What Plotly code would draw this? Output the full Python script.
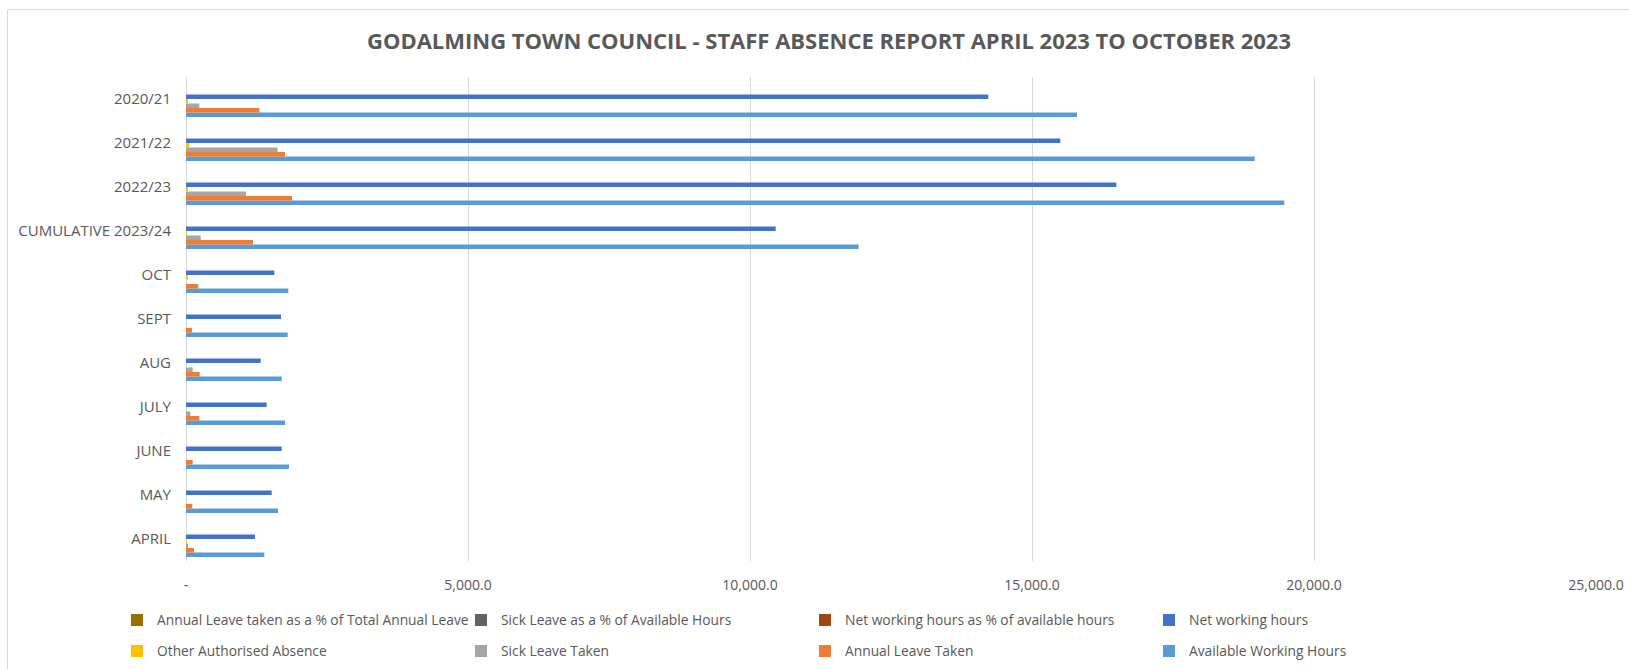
import plotly.graph_objects as go

# Categories (bottom to top as drawn)
categories = ["APRIL", "MAY", "JUNE", "JULY", "AUG", "SEPT", "OCT",
              "CUMULATIVE 2023/24", "2022/23", "2021/22", "2020/21"]

available_hours = [1389, 1631, 1826, 1755, 1697, 1803, 1814, 11927, 19473, 18949, 15798]
annual_leave_taken = [142, 112, 118, 236, 243, 106, 218, 1188, 1880, 1755, 1300]
sick_leave_taken = [20, 0, 0, 77, 118, 0, 0, 260, 1064, 1625, 236]
other_absence = [4, 0, 0, 0, 0, 0, 30, 5, 35, 60, 30]
net_working_hours = [1223, 1519, 1697, 1430, 1324, 1684, 1566, 10455, 16495, 15502, 14225]
# percentage series: no visible length in the picture
net_pct = [0, 0, 0, 0, 0, 0, 0, 0, 0, 0, 0]
sick_pct = [0, 0, 0, 0, 0, 0, 0, 0, 0, 0, 0]
annual_pct = [0, 0, 0, 0, 0, 0, 0, 0, 0, 0, 0]

tick_vals = [0, 5000, 10000, 15000, 20000, 25000]
tick_text = ["-", "5,000.0", "10,000.0", "15,000.0", "20,000.0", "25,000.0"]

series = [
    ("Available Working Hours", available_hours, "#5B9BD5", "legend2"),
    ("Annual Leave Taken", annual_leave_taken, "#ED7D31", "legend2"),
    ("Sick Leave Taken", sick_leave_taken, "#A5A5A5", "legend2"),
    ("Other Authorised Absence", other_absence, "#FFC000", "legend2"),
    ("Net working hours", net_working_hours, "#4472C4", "legend"),
    ("Net working hours as % of available hours", net_pct, "#9E480E", "legend"),
    ("Sick Leave as a % of Available Hours", sick_pct, "#636363", "legend"),
    ("Annual Leave taken as a % of Total Annual Leave", annual_pct, "#997300", "legend"),
]

FONT = "Open Sans"
GREY = "#595959"

fig = go.Figure()
for name, vals, color, leg in series:
    fig.add_trace(go.Bar(
        y=categories, x=vals, name=name, orientation="h",
        marker=dict(color=color, line=dict(width=0)),
        legend=leg,
    ))

W, H = 1629, 669
L, R, T, B = 186, 33, 77, 108
pw, ph = W - L - R, H - T - B

def px_x(x):
    return (x - L) / pw

def px_y(y):
    return (H - B - y) / ph

legend_common = dict(
    orientation="h", traceorder="reversed",
    entrywidth=299, entrywidthmode="pixels",
    font=dict(family=FONT, size=13.8, color=GREY),
    bgcolor="rgba(0,0,0,0)", xanchor="left", yanchor="middle",
    itemwidth=30,
)

fig.update_layout(
    width=W, height=H,
    margin=dict(l=L, r=R, t=T, b=B, autoexpand=False),
    paper_bgcolor="white", plot_bgcolor="white",
    barmode="group", bargap=0.18, bargroupgap=0,
    title=dict(
        text="<b>GODALMING TOWN COUNCIL - STAFF ABSENCE REPORT APRIL 2023 TO OCTOBER 2023</b>",
        x=829 / W, xref="container", xanchor="center",
        y=1 - 41.5 / H, yref="container", yanchor="middle",
        font=dict(family=FONT, size=22, color=GREY),
    ),
    xaxis=dict(
        range=[0, 25000], tickvals=tick_vals, ticktext=tick_text,
        showgrid=True, gridcolor="#D9D9D9", gridwidth=1,
        zeroline=True, zerolinecolor="#D9D9D9", zerolinewidth=1,
        showline=False, ticks="", ticklabelstandoff=14,
        tickfont=dict(family=FONT, size=14, color=GREY),
    ),
    yaxis=dict(
        categoryorder="array", categoryarray=categories,
        showgrid=False, zeroline=False, showline=False, ticks="",
        ticklabelstandoff=14,
        tickfont=dict(family=FONT, size=15, color=GREY),
    ),
    legend=dict(x=px_x(117), y=px_y(620), **legend_common),
    legend2=dict(x=px_x(117), y=px_y(651), **legend_common),
    shapes=[dict(type="rect", xref="paper", yref="paper",
                 x0=px_x(7.5), x1=px_x(1660), y0=px_y(700), y1=px_y(9.5),
                 line=dict(color="#D9D9D9", width=1), layer="below")],
)

fig.write_html("out.html")
